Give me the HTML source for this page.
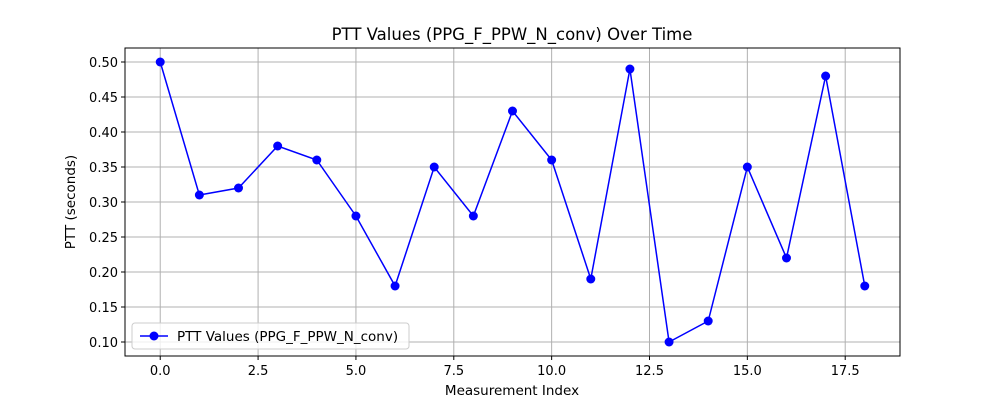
<!DOCTYPE html>
<html><head><meta charset="utf-8"><style>
body{margin:0;background:#fff;font-family:"Liberation Sans","DejaVu Sans",sans-serif;}
svg text{font-family:"DejaVu Sans","Liberation Sans",sans-serif;}
</style></head><body>
<svg id="chart" width="1000" height="400">
<rect width="1000" height="400" fill="#fff"/>
<text x="512" y="40" text-anchor="middle" font-size="16.5">PTT Values (PPG_F_PPW_N_conv) Over Time</text>
<g id="grid"></g><g id="axes"></g><g id="series"></g>
<text x="512" y="395" text-anchor="middle" font-size="13.5">Measurement Index</text>
<text transform="translate(75,202) rotate(-90)" text-anchor="middle" font-size="13.5">PTT (seconds)</text>
<g>
<rect x="132" y="323" width="277" height="26" fill="#fff" fill-opacity="0.8" stroke="#ccc" rx="3"/>
<line x1="140" y1="336" x2="168" y2="336" stroke="#0000ff" stroke-width="1.5"/>
<circle cx="154" cy="336" r="4.5" fill="#0000ff"/>
<text x="177" y="341" font-size="13.5">PTT Values (PPG_F_PPW_N_conv)</text>
</g>
<rect x="125" y="48" width="775" height="308" fill="none" stroke="#000" stroke-width="1"/>
</svg>
<script>
const indices=[0,1,2,3,4,5,6,7,8,9,10,11,12,13,14,15,16,17,18];
const pttValues=[0.50,0.31,0.32,0.38,0.36,0.28,0.18,0.35,0.28,0.43,0.36,0.19,0.49,0.10,0.13,0.35,0.22,0.48,0.18];
const xTicks=[0,2.5,5,7.5,10,12.5,15,17.5];
const xTickLabels=["0.0","2.5","5.0","7.5","10.0","12.5","15.0","17.5"];
const yTicks=[0.10,0.15,0.20,0.25,0.30,0.35,0.40,0.45,0.50];
const yTickLabels=["0.10","0.15","0.20","0.25","0.30","0.35","0.40","0.45","0.50"];
const L=125,R=900,T=48,B=356;
const xMin=-0.9,xMax=18.9,yMin=0.08,yMax=0.52;
const xs=v=>L+(v-xMin)/(xMax-xMin)*(R-L);
const ys=v=>B-(v-yMin)/(yMax-yMin)*(B-T);
const NS="http://www.w3.org/2000/svg";
const g=document.getElementById('grid'),a=document.getElementById('axes'),s=document.getElementById('series');
function mk(t,at,p){const e=document.createElementNS(NS,t);for(const k in at)e.setAttribute(k,at[k]);p.appendChild(e);return e;}
xTicks.forEach((v,i)=>{const x=xs(v);
const gl=mk('line',{x1:x,x2:x,y1:T,y2:B,stroke:'#b0b0b0','stroke-width':1},g);


mk('line',{x1:x,x2:x,y1:B,y2:B+4,stroke:'#000'},a);
const t=mk('text',{x:x,y:B+19,'text-anchor':'middle','font-size':13},a);t.textContent=xTickLabels[i];

});
yTicks.forEach((v,i)=>{const y=ys(v);
const gl=mk('line',{x1:L,x2:R,y1:y,y2:y,stroke:'#b0b0b0','stroke-width':1},g);


mk('line',{x1:L-4,x2:L,y1:y,y2:y,stroke:'#000'},a);
const t=mk('text',{x:L-7,y:y+5,'text-anchor':'end','font-size':13},a);t.textContent=yTickLabels[i];

});
const pts=indices.map((v,i)=>xs(v)+','+ys(pttValues[i])).join(' ');
const pl=mk('polyline',{points:pts,fill:'none',stroke:'#0000ff','stroke-width':1.5},s);


indices.forEach((v,i)=>{const c=mk('circle',{cx:xs(v),cy:ys(pttValues[i]),r:4.5,fill:'#0000ff'},s);

});
</script>
</body></html>
